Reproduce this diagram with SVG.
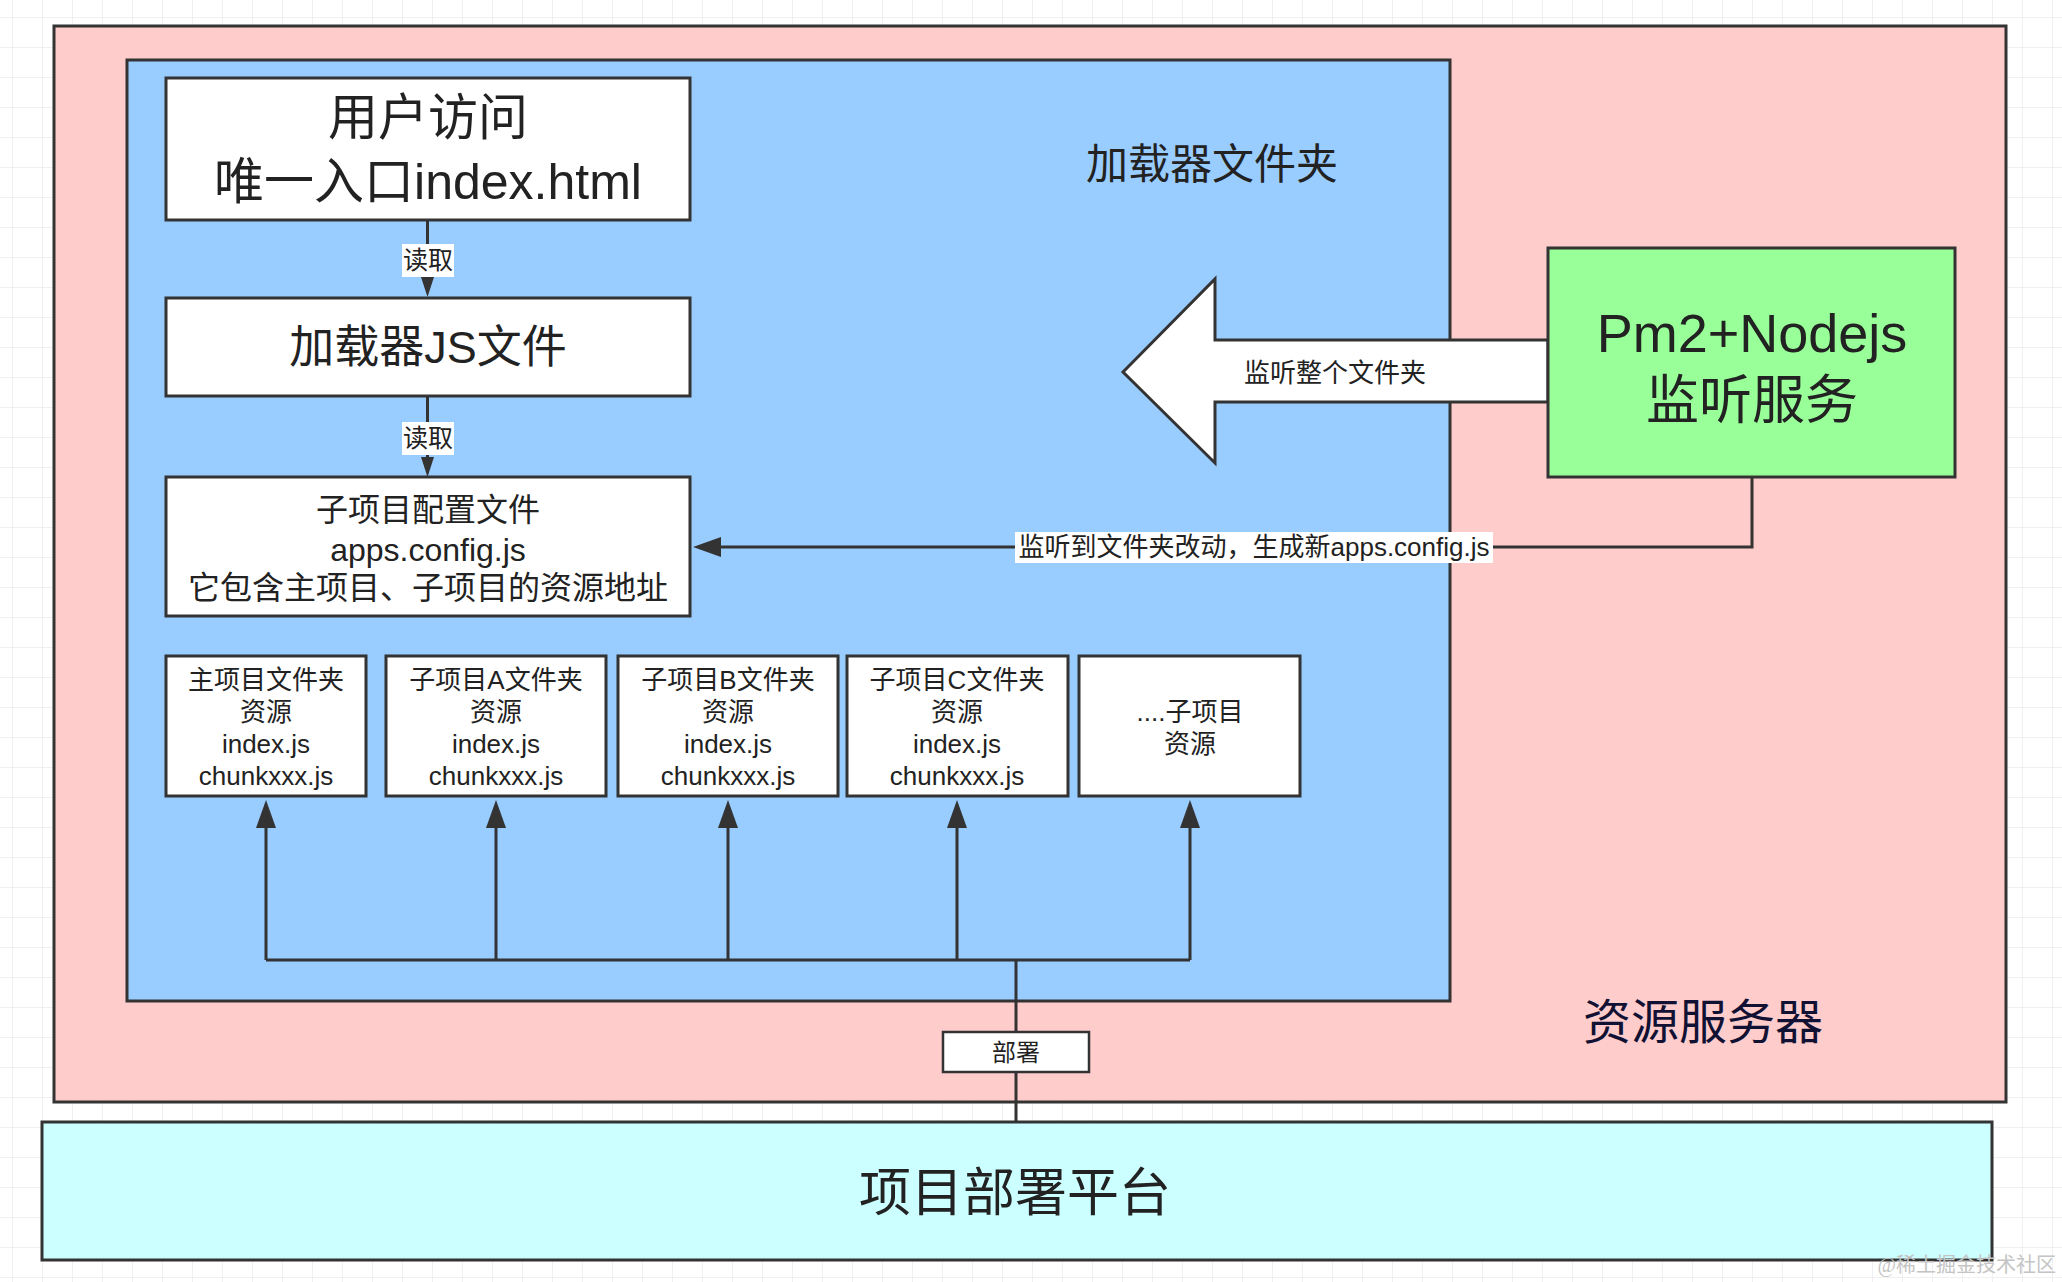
<svg xmlns="http://www.w3.org/2000/svg" width="2062" height="1282" viewBox="0 0 2062 1282">
<defs>
<pattern id="grid" x="12" y="17" width="30" height="30" patternUnits="userSpaceOnUse">
<path d="M30,0 H0 V30" fill="none" stroke="#ebebeb" stroke-width="1.5"/>
</pattern>
<marker id="arr" viewBox="0 0 28 20" markerWidth="28" markerHeight="20" refX="22" refY="10" orient="auto" markerUnits="userSpaceOnUse">
<path d="M0,0 L28,10 L0,20 z" fill="#333"/>
</marker>
<marker id="arrs" viewBox="0 0 20 13" markerWidth="20" markerHeight="13" refX="14" refY="6.5" orient="auto" markerUnits="userSpaceOnUse">
<path d="M0,0 L20,6.5 L0,13 z" fill="#333"/>
</marker>
</defs>
<style>
text{font-family:"Liberation Sans","Noto Sans CJK SC",sans-serif;fill:#222;text-anchor:middle;dominant-baseline:central}
.box{stroke:#333;stroke-width:3}
.w{fill:#fff}
.line{fill:none;stroke:#333;stroke-width:3}
.t26{font-size:26px}
.t24{font-size:24px}
.t32{font-size:32px}
</style>
<rect width="2062" height="1282" fill="#fff"/>
<rect width="2062" height="1282" fill="url(#grid)"/>

<g id="resource-server">
<rect class="box" x="54" y="26" width="1952" height="1076" fill="#ffcccc"/>
<text x="1703" y="1022" style="font-size:48px;fill:#111133">资源服务器</text>
</g>

<g id="loader-folder">
<rect class="box" x="127" y="60" width="1323" height="941" fill="#99ccff"/>
<text x="1212" y="164" style="font-size:42px">加载器文件夹</text>
</g>

<g id="platform">
<rect class="box" x="42" y="1122" width="1950" height="138" fill="#ccffff"/>
<text x="1015" y="1193" style="font-size:52px">项目部署平台</text>
</g>

<g id="connectors">
<path class="line" d="M427.5,220 V291" marker-end="url(#arrs)"/>
<path class="line" d="M427.5,396 V471" marker-end="url(#arrs)"/>
<path class="line" d="M1752,477 V547 H699" marker-end="url(#arr)"/>
<path class="line" d="M266,960 H1190"/>
<path class="line" d="M266,960 V806" marker-end="url(#arr)"/>
<path class="line" d="M496,960 V806" marker-end="url(#arr)"/>
<path class="line" d="M728,960 V806" marker-end="url(#arr)"/>
<path class="line" d="M957,960 V806" marker-end="url(#arr)"/>
<path class="line" d="M1190,960 V806" marker-end="url(#arr)"/>
<path class="line" d="M1016,960 V1122"/>
<rect x="402" y="244" width="52" height="33" fill="#fff"/>
<text x="428" y="260" style="font-size:25px">读取</text>
<rect x="402" y="422" width="52" height="33" fill="#fff"/>
<text x="428" y="438" style="font-size:25px">读取</text>
<rect x="1015" y="532" width="478" height="31" fill="#fff"/>
<text class="t26" x="1254" y="547">监听到文件夹改动，生成新apps.config.js</text>
<rect x="943" y="1032" width="146" height="40" fill="#fff" stroke="#333" stroke-width="2.5"/>
<text class="t24" x="1016" y="1052">部署</text>
<polygon points="1123,372 1215,279 1215,340 1548,340 1548,402 1215,402 1215,463" fill="#fff" stroke="#333" stroke-width="3" stroke-linejoin="miter"/>
<text class="t26" x="1335" y="373">监听整个文件夹</text>
</g>

<g id="entry">
<rect class="box w" x="166" y="78" width="524" height="142"/>
<text x="428" y="118" style="font-size:50px">用户访问</text>
<text x="428" y="182" style="font-size:50px">唯一入口index.html</text>
</g>

<g id="loader-js">
<rect class="box w" x="166" y="298" width="524" height="98"/>
<text x="428" y="347" style="font-size:45px">加载器JS文件</text>
</g>

<g id="apps-config">
<rect class="box w" x="166" y="477" width="524" height="139"/>
<text class="t32" x="428" y="510">子项目配置文件</text>
<text class="t32" x="428" y="550">apps.config.js</text>
<text class="t32" x="428" y="588">它包含主项目、子项目的资源地址</text>
</g>

<g id="main-project">
<rect class="box w" x="166" y="656" width="200" height="140"/>
<text class="t26" x="266" y="680">主项目文件夹</text>
<text class="t26" x="266" y="712">资源</text>
<text class="t26" x="266" y="744">index.js</text>
<text class="t26" x="266" y="776">chunkxxx.js</text>
</g>

<g id="sub-a">
<rect class="box w" x="386" y="656" width="220" height="140"/>
<text class="t26" x="496" y="680">子项目A文件夹</text>
<text class="t26" x="496" y="712">资源</text>
<text class="t26" x="496" y="744">index.js</text>
<text class="t26" x="496" y="776">chunkxxx.js</text>
</g>

<g id="sub-b">
<rect class="box w" x="618" y="656" width="220" height="140"/>
<text class="t26" x="728" y="680">子项目B文件夹</text>
<text class="t26" x="728" y="712">资源</text>
<text class="t26" x="728" y="744">index.js</text>
<text class="t26" x="728" y="776">chunkxxx.js</text>
</g>

<g id="sub-c">
<rect class="box w" x="847" y="656" width="221" height="140"/>
<text class="t26" x="957" y="680">子项目C文件夹</text>
<text class="t26" x="957" y="712">资源</text>
<text class="t26" x="957" y="744">index.js</text>
<text class="t26" x="957" y="776">chunkxxx.js</text>
</g>

<g id="sub-more">
<rect class="box w" x="1079" y="656" width="221" height="140"/>
<text class="t26" x="1190" y="712">....子项目</text>
<text class="t26" x="1190" y="744">资源</text>
</g>

<g id="pm2">
<rect class="box" x="1548" y="248" width="407" height="229" fill="#99ff99"/>
<text x="1752" y="333" style="font-size:54px">Pm2+Nodejs</text>
<text x="1752" y="400" style="font-size:53px">监听服务</text>
</g>

<text x="2056" y="1265" style="font-size:20px;fill:#c4c4c4;text-anchor:end;font-family:'Liberation Serif','Noto Sans CJK SC',serif">@稀土掘金技术社区</text>
</svg>
